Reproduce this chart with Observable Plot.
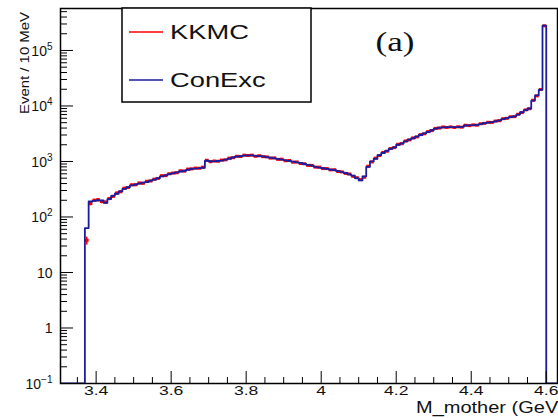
<!DOCTYPE html>
<html><head><meta charset="utf-8">
<script src="https://cdn.jsdelivr.net/npm/d3@7"></script>
<script src="https://cdn.jsdelivr.net/npm/@observablehq/plot@0.6"></script>
<style>
body{margin:0;background:#fff}
svg{font-family:"Liberation Sans",Arial,Helvetica,sans-serif}
</style>
</head><body><div id="chart"></div>
<script>
// ---- data ----
const binStart = 3.37;     // GeV, low edge of first filled bin
const binWidth = 0.01;     // 10 MeV
const conexc = [
  63, 190, 195, 200, 198, 180, 210, 240, 262, 290,
  320, 345, 370, 385, 400, 415, 425, 450, 470, 500,
  540, 560, 590, 610, 635, 660, 680, 710, 740, 745,
  760, 770, 1030, 1010, 1000, 1020, 1040, 1080, 1120, 1180,
  1220, 1250, 1270, 1290, 1285, 1260, 1250, 1240, 1200, 1170,
  1140, 1110, 1080, 1050, 1020, 990, 965, 940, 900, 870,
  840, 800, 775, 755, 735, 715, 700, 670, 645, 620,
  585, 555, 500, 455, 540, 800, 1000, 1120, 1300, 1420,
  1550, 1680, 1800, 2000, 2120, 2300, 2480, 2620, 2800, 3000,
  3200, 3400, 3650, 3900, 4050, 4120, 4150, 4150, 4150, 4160,
  4200, 4450, 4480, 4500, 4550, 4700, 4900, 5000, 5100, 5260,
  5500, 5800, 6050, 6300, 6500, 7000, 7700, 8400, 9000, 12500,
  15500, 19500, 280000
];
const kkmc = [
  38, 175, 200, 205, 190, 185, 215, 235, 270, 285,
  330, 340, 380, 380, 410, 405, 440, 445, 480, 495,
  555, 555, 600, 620, 625, 680, 670, 730, 735, 760,
  755, 790, 1050, 990, 1020, 1010, 1060, 1070, 1150, 1170,
  1240, 1230, 1300, 1280, 1300, 1240, 1270, 1220, 1210, 1150,
  1160, 1090, 1100, 1030, 1040, 970, 980, 920, 910, 850,
  850, 790, 790, 745, 745, 705, 710, 660, 650, 610,
  595, 540, 510, 470, 520, 820, 980, 1150, 1280, 1450,
  1530, 1710, 1780, 2040, 2090, 2340, 2450, 2660, 2770, 3050,
  3150, 3450, 3600, 3950, 4000, 4180, 4100, 4200, 4100, 4220,
  4150, 4500, 4420, 4560, 4500, 4780, 4850, 5080, 5050, 5350,
  5430, 5900, 5980, 6400, 6420, 7100, 7600, 8500, 8900, 12700,
  15200, 19800, 278000
];
const xDomain = [3.305, 4.63];
const yDomain = [0.1, 5.7e5];
const xMajor = [3.4, 3.6, 3.8, 4.0, 4.2, 4.4, 4.6];
const xMajorLabels = ["3.4", "3.6", "3.8", "4", "4.2", "4.4", "4.6"];
const xMinor = [3.35, 3.45, 3.5, 3.55, 3.65, 3.7, 3.75, 3.85, 3.9, 3.95, 4.05, 4.1, 4.15, 4.25, 4.3, 4.35, 4.45, 4.5, 4.55];
const yMajor = [0.1, 1, 10, 100, 1e3, 1e4, 1e5];
const yLabelBase = ["10", "1", "10", "10", "10", "10", "10"];
const yLabelExp = ["-1", "", "", "2", "3", "4", "5"];
const yMinorMult = [2, 3, 4, 5, 6, 7, 8, 9];
const seriesNames = ["KKMC", "ConExc"];
const seriesColors = ["#ff0000", "#1c1c9e"];
const xTitle = "M_mother (GeV)";
const yTitle = "Event / 10 MeV";
const panelTag = "(a)";

// ---- derived tables ----
const yMinor = yMajor.flatMap(d => yMinorMult.map(m => d * m)).filter(v => v < yDomain[1]);
const floor = yDomain[0];
const steps = [{x: xDomain[0], y: floor}];
conexc.forEach((v, i) => steps.push({x: binStart + i * binWidth, y: Math.max(v, floor)}));
steps.push({x: binStart + conexc.length * binWidth, y: floor});
steps.push({x: xDomain[1], y: floor});
const kk = kkmc.map((v, i) => ({lo: binStart + i * binWidth, hi: binStart + (i + 1) * binWidth, c: binStart + (i + 0.5) * binWidth, v, e: Math.sqrt(v)}));

const W = 558, H = 418, mL = 60, mR = 1, mT = 8, mB = 35;
const fw = W - mL - mR, fh = H - mT - mB;

const plot = Plot.plot({
  width: W, height: H,
  marginLeft: mL, marginRight: mR, marginTop: mT, marginBottom: mB,
  x: {domain: xDomain, axis: null},
  y: {type: "log", domain: yDomain, axis: null},
  style: {background: "white", fontFamily: "Liberation Sans, Arial, sans-serif"},
  marks: [
    Plot.link(kk, {x1: "lo", x2: "hi", y1: "v", y2: "v", stroke: seriesColors[0], strokeWidth: 3, clip: true}),
    Plot.link(kk, {x1: "c", x2: "c", y1: d => d.v - d.e, y2: d => d.v + d.e, stroke: seriesColors[0], strokeWidth: 1.6, clip: true}),
    Plot.line(steps, {x: "x", y: "y", curve: "step-after", stroke: seriesColors[1], strokeWidth: 1.8, clip: true}),
    Plot.tickX(xMajor, {x: d => d, insetTop: fh - 12, stroke: "black", strokeWidth: 1}),
    Plot.tickX(xMinor, {x: d => d, insetTop: fh - 6, stroke: "black", strokeWidth: 1}),
    Plot.tickY(yMajor, {y: d => d, insetRight: fw - 13, stroke: "black", strokeWidth: 1}),
    Plot.tickY(yMinor, {y: d => d, insetRight: fw - 7, stroke: "black", strokeWidth: 1}),
    Plot.frame({stroke: "black", strokeWidth: 1.5}),
    Plot.text(xMajor, {x: d => d, text: (d, i) => xMajorLabels[i], frameAnchor: "bottom", dy: 11, fontSize: 13.5, fill: "#111", className: "xtl"}),
    Plot.text(yMajor, {y: d => d, text: (d, i) => yLabelBase[i], frameAnchor: "left", dx: -8, dy: 1, textAnchor: "end", fontSize: 14, fill: "#111", className: "ytl"})
  ]
});
document.getElementById("chart").appendChild(plot);

const svg = d3.select(plot);
svg.selectAll("g.xtl text").each(function () {
  const w = this.getComputedTextLength();
  this.setAttribute("textLength", w * 1.3);
  this.setAttribute("lengthAdjust", "spacingAndGlyphs");
});
// superscript exponents on the y tick labels
svg.selectAll("g.ytl text").each(function (_, j) {
  const e = yLabelExp[j];
  if (!e) return;
  d3.select(this).append("tspan").attr("font-size", 10).attr("dy", -6).text(e === "-1" ? "\u22121" : e);
});

function addText(x, y, k, txt, attrs) {
  const t = svg.append("text").attr("transform", `translate(${x},${y}) scale(${k},1)`)
    .attr("text-anchor", "start").attr("fill", "#111").text(txt);
  Object.entries(attrs).forEach(([a, v]) => t.attr(a, v));
  return t;
}

// axis titles
addText(416, 413, 1.25, xTitle, {"font-size": 16});
svg.append("text").attr("transform", "translate(29,12) rotate(-90)").attr("text-anchor", "end")
  .attr("font-size", 12).attr("fill", "#111").attr("textLength", 102).attr("lengthAdjust", "spacingAndGlyphs").text(yTitle);

// panel tag
addText(395, 51, 1.3, panelTag, {"text-anchor": "middle", "font-family": "Liberation Serif, Times New Roman, serif", "font-size": 27});

// legend
const lg = svg.append("g");
lg.append("rect").attr("x", 122).attr("y", mT).attr("width", 189).attr("height", 94)
  .attr("fill", "white").attr("stroke", "black").attr("stroke-width", 1.5);
const rows = [32, 80];
seriesNames.forEach((name, i) => {
  lg.append("line").attr("x1", 129).attr("x2", 163).attr("y1", rows[i]).attr("y2", rows[i])
    .attr("stroke", seriesColors[i]).attr("stroke-width", 1.5);
  addText(170, rows[i] + 7, 1.4, name, {"font-size": 19.5});
});
</script>
</body></html>
